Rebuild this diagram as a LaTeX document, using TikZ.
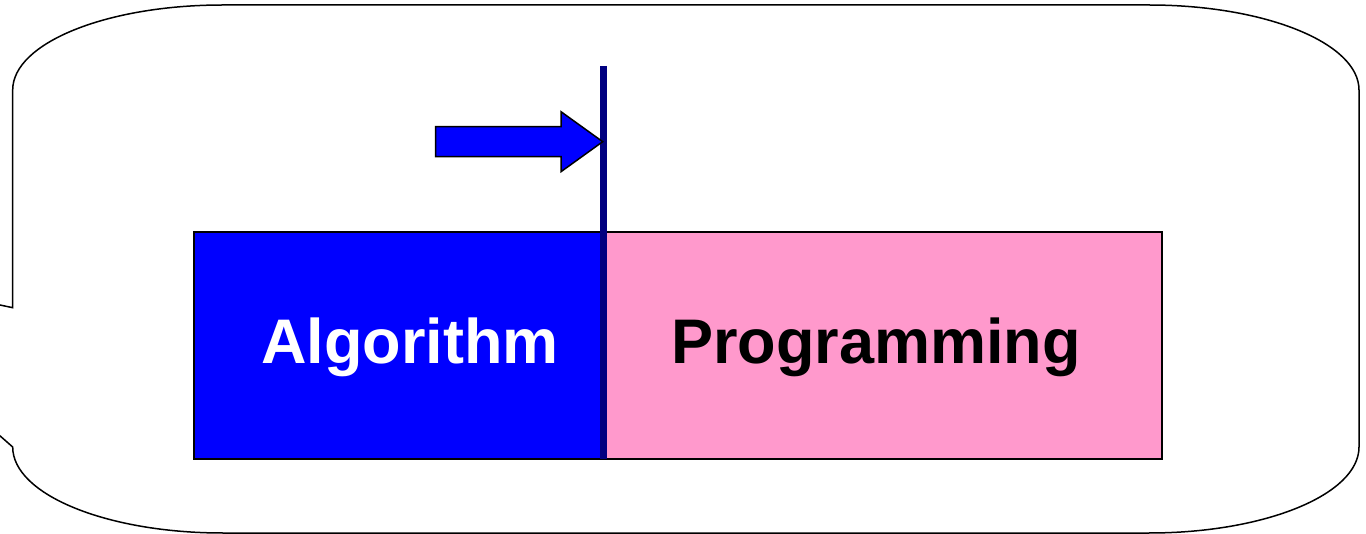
\documentclass[tikz,border=0pt]{standalone}
\usepackage{fontspec}
\setmainfont{Liberation Sans}
\definecolor{algblue}{RGB}{0,0,255}
\definecolor{progpink}{RGB}{255,153,204}
\definecolor{barnavy}{RGB}{0,0,128}
\begin{document}
\begin{tikzpicture}[x=1pt,y=-1pt,
  outline/.style={draw=black, line width=1.5pt, line join=miter},
  box/.style={outline, rectangle, inner sep=0pt, outer sep=0pt},
  lbl/.style={anchor=base, inner sep=0pt, font=\fontsize{63}{63}\selectfont\bfseries},
  barline/.style={draw=barnavy, line width=7pt},
  blockarrow/.style={outline, fill=algblue}]
  \useasboundingbox (0,0) rectangle (1366,534);
  \clip (0,0) rectangle (1366,534);

  % callout frame with rounded top and bottom, pointer leaving to the left
  \draw[outline, fill=white]
    (12.7,307.7) -- (12.7,90)
    .. controls (12.7,43) and (106.7,5) .. (222.7,5)
    -- (1149,5)
    .. controls (1265,5) and (1359,43) .. (1359,90)
    -- (1359,447)
    .. controls (1359,494.5) and (1265,533) .. (1149,533)
    -- (222.7,533)
    .. controls (106.7,533) and (12.7,494.5) .. (12.7,447)
    -- (-197,263) -- cycle;

  % the two blocks
  \node[box, fill=algblue, minimum width=409, minimum height=227] (alg) at (398.5,345.5) {};
  \node[box, fill=progpink, minimum width=559, minimum height=227] (prog) at (882.5,345.5) {};

  \node[lbl, text=white] (algtext) at (410,364) {Algorithm};
  \node[lbl, text=black] (progtext) at (876,364) {Programming};

  % dividing marker
  \coordinate (bartop) at (603,66);
  \coordinate (barbot) at (603,459);
  \draw[barline] (bartop) -- (barbot);

  % block arrow pointing at the marker
  \coordinate (tip) at (602.7,141.7);
  \draw[blockarrow] (435.7,126.7) -- (561,126.7) -- (561,111.7) -- (tip)
    -- (561,171.7) -- (561,156.7) -- (435.7,156.7) -- cycle;
\end{tikzpicture}
\end{document}
